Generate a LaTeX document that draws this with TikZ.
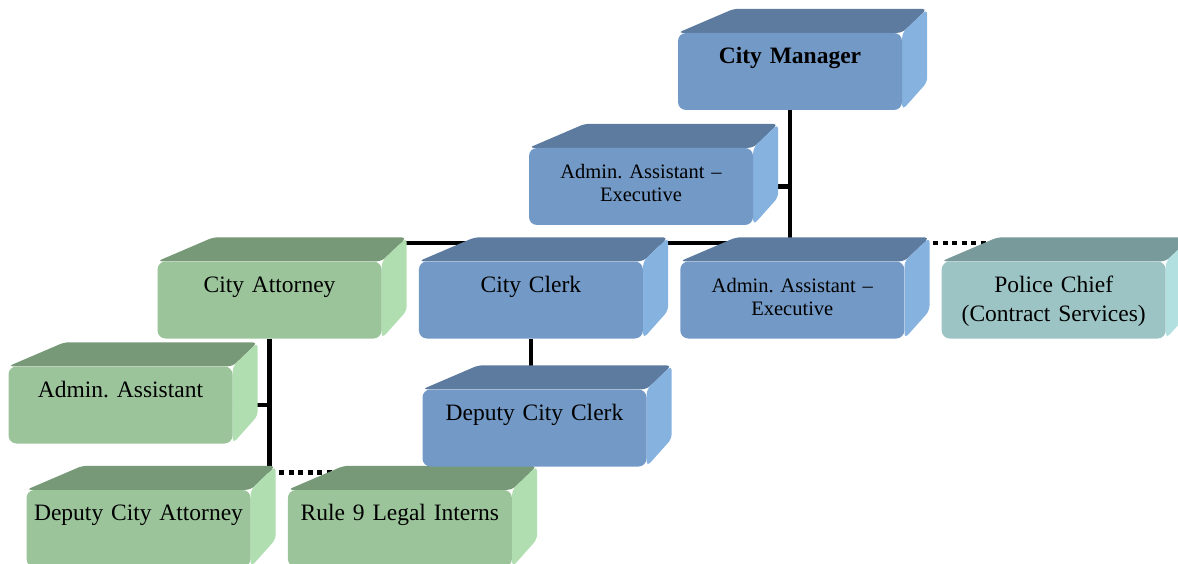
\documentclass[tikz,border=0pt]{standalone}
\usepackage{fontspec}
\setmainfont{Liberation Serif}
\usetikzlibrary{positioning}
\frenchspacing

\pgfdeclarelayer{lines}
\pgfdeclarelayer{faces}
\pgfsetlayers{lines,faces,main}

\definecolor{frontblue}{HTML}{7399C6}
\definecolor{topblue}{HTML}{5C7B9F}
\definecolor{sideblue}{HTML}{86B2E0}
\definecolor{frontgreen}{HTML}{9BC49B}
\definecolor{topgreen}{HTML}{789978}
\definecolor{sidegreen}{HTML}{B0DEB0}
\definecolor{frontteal}{HTML}{9DC4C4}
\definecolor{topteal}{HTML}{799A9A}
\definecolor{sideteal}{HTML}{B2E0E0}

\begin{document}
\begin{tikzpicture}[
    x=1pt, y=-1pt,
    node distance = 37pt,
    box/.style = {rounded corners=8pt, minimum width=224pt, minimum height=77pt,
        inner sep=0pt, text width=220pt, align=center,
        text height=17pt, text depth=33pt, font=\fontsize{23.5}{29}\selectfont},
    small/.style = {font=\fontsize{20.5}{23}\selectfont},
    bluebox/.style = {box, fill=frontblue},
    greenbox/.style = {box, fill=frontgreen},
    tealbox/.style = {box, fill=frontteal},
    link/.style = {line width=4.5pt},
    dotlink/.style = {line width=4.5pt, dash pattern=on 5pt off 4.5pt},
]

\useasboundingbox (0,0) rectangle (1178,564);

% Define a command for the top and right faces of a box
\newcommand{\boxfaces}[3]{
  \begin{pgfonlayer}{faces}
    \fill[#2, rounded corners=5pt] (#1.north west) -- ++(56,-24)
      -- ([shift={(25,-24)}]#1.north east) -- (#1.north east) -- cycle;
    \fill[#3, rounded corners=5pt] (#1.north east) -- ++(25,-24)
      -- ([shift={(25,-28)}]#1.south east) -- (#1.south east) -- cycle;
  \end{pgfonlayer}
}

% Top of the chart
\node[bluebox, font=\fontsize{23.5}{29}\selectfont\bfseries] (manager) at (790,71.5) {City Manager};
\node[bluebox, small] (exec) at (641,186.5) {Admin. Assistant --\\ Executive};

% Department heads
\node[greenbox] (attorney) at (269.5,300) {City Attorney};
\node[bluebox, right=of attorney] (clerk) {City Clerk};
\node[bluebox, small, right=of clerk] (admin) {Admin. Assistant --\\ Executive};
\node[tealbox, right=of admin] (police) {Police Chief\\ (Contract Services)};

% Staff below the heads
\node[greenbox] (asst) at (120.5,405) {Admin. Assistant};
\node[bluebox] (dclerk) at (534.5,428) {Deputy City Clerk};
\node[greenbox] (dattorney) at (138.5,528.5) {Deputy City Attorney};
\node[greenbox, right=of dattorney] (interns) {Rule 9 Legal Interns};

% 3D faces of every box
\foreach \n/\c in {manager/blue, exec/blue, attorney/green, clerk/blue, admin/blue,
    police/teal, asst/green, dclerk/blue, dattorney/green, interns/green}
  {\boxfaces{\n}{top\c}{side\c}}

% Reporting lines, kept behind the boxes
\begin{pgfonlayer}{lines}
\draw[link] (manager.south) -- ++(0,133) coordinate (bus) -- (bus -| attorney.east);
\draw[link] (exec.east) -- (exec.east -| manager.south);
\draw[dotlink] (bus -| admin.east) -- (bus -| police.north);
\draw[link] (clerk.south) -- (clerk.south |- dclerk.north);
\draw[link] (attorney.south) -- ++(0,134) coordinate (split);
\draw[link] (asst.east) -- (asst.east -| attorney.south);
\draw[dotlink] (split) -- (split -| interns.north);
\end{pgfonlayer}

\end{tikzpicture}
\end{document}
